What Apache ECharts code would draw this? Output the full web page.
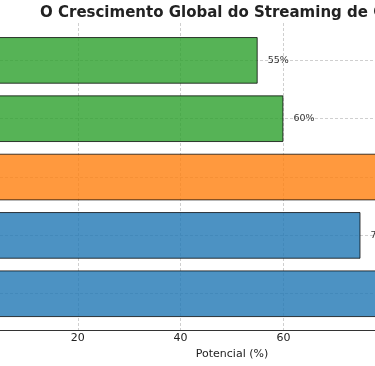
<!DOCTYPE html>
<html>
<head>
<meta charset="utf-8">
<script src="https://cdn.jsdelivr.net/npm/echarts@6/dist/echarts.min.js"></script>
<style>html,body{margin:0;padding:0;background:#fff}#c{width:375px;height:366px}</style>
</head>
<body>
<div id="c"></div>
<script>
// Data (bottom -> top, as in the original horizontal bar chart)
const categories = ['Ásia', 'América Latina', 'África', 'Oriente Médio', 'Oceania'];
const values = [80, 75, 90, 60, 55];
const barColors = ['rgba(31,119,180,0.8)', 'rgba(31,119,180,0.8)', 'rgba(255,127,14,0.8)', 'rgba(44,160,44,0.8)', 'rgba(44,160,44,0.8)'];
const xMin = 0, xMax = 100, tickStep = 20;
const titleText = 'O Crescimento Global do Streaming de Conteúdo';
const xName = 'Potencial (%)';

const font = 'DejaVu Sans';
const chart = echarts.init(document.getElementById('c'), null, {renderer: 'canvas'});
const plotLeft = -25, plotWidth = 514;
chart.setOption({
  animation: false,
  backgroundColor: '#fff',
  title: {
    text: titleText,
    left: 35, top: 1,
    textStyle: {fontFamily: font, fontWeight: 'bold', fontSize: 15, color: '#222'}
  },
  grid: [
    {left: plotLeft, width: plotWidth, top: 23, height: 307, containLabel: false, outerBoundsMode: 'none'},
    {left: plotLeft, width: plotWidth, top: 31.2, height: 291.7, containLabel: false, outerBoundsMode: 'none'}
  ],
  xAxis: [
    {
      gridIndex: 0, type: 'value', min: xMin, max: xMax, interval: tickStep,
      name: xName, nameLocation: 'middle', nameGap: 17,
      nameTextStyle: {fontFamily: font, fontSize: 11, color: '#222'},
      axisLine: {show: true, lineStyle: {color: '#333', width: 1}},
      axisTick: {show: false},
      axisLabel: {fontFamily: font, fontSize: 11, color: '#222', margin: 3},
      splitLine: {show: true, lineStyle: {color: '#cfcfcf', type: [3, 2], width: 1}}
    },
    {
      gridIndex: 1, type: 'value', min: xMin, max: xMax,
      show: false, splitLine: {show: false}
    }
  ],
  yAxis: [
    {gridIndex: 0, type: 'value', show: false, splitLine: {show: false}},
    {
      gridIndex: 1, type: 'category', data: categories,
      axisLine: {show: false}, axisTick: {show: false},
      axisLabel: {fontFamily: font, fontSize: 11, color: '#222'},
      splitLine: {show: false}
    }
  ],
  series: [{
    type: 'bar', xAxisIndex: 1, yAxisIndex: 1,
    barWidth: '80%',
    data: values.map((v, i) => ({value: v, itemStyle: {color: barColors[i]}})),
    itemStyle: {borderColor: 'rgba(0,0,0,0.75)', borderWidth: 1},
    label: {
      show: true, position: 'right', distance: 10,
      formatter: '{c}%', fontFamily: font, fontSize: 9.5, color: '#333'
    },
    markLine: {
      z: 1, silent: true, symbol: ['none', 'none'],
      label: {show: false},
      lineStyle: {color: '#cfcfcf', type: [3, 2], width: 1},
      data: categories.map(c => ({yAxis: c}))
    }
  }]
});
</script>
</body>
</html>
